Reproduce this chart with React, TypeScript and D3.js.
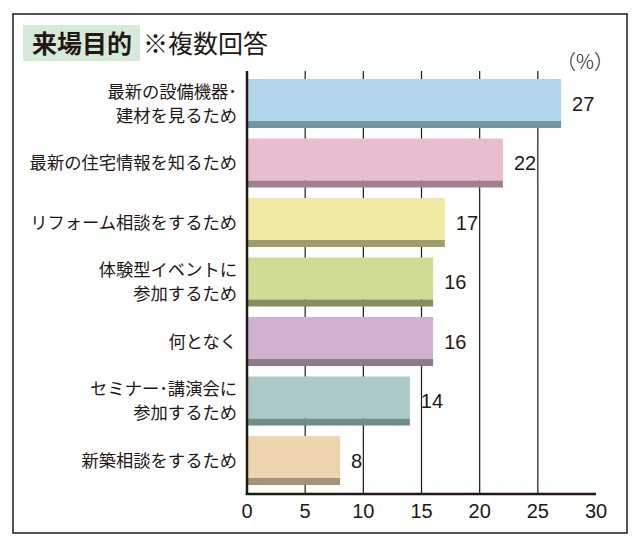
import * as d3 from 'd3';
import * as React from 'react';

const categories = [
  '最新の設備機器･\n建材を見るため',
  '最新の住宅情報を知るため',
  'リフォーム相談をするため',
  '体験型イベントに\n参加するため',
  '何となく',
  'セミナー･講演会に\n参加するため',
  '新築相談をするため',
];
const values = [27, 22, 17, 16, 16, 14, 8];
const lightColors = ['#b1d5ea', '#e8bdd0', '#f0e9a4', '#d0da92', '#cfb2cf', '#a9c8c6', '#eed5b0'];
const darkColors = ['#7592a0', '#a08090', '#a09c6c', '#858e5e', '#8c7a8c', '#6f8e8a', '#a39277'];
const ticks = [0, 5, 10, 15, 20, 25, 30];

const W = 640;
const H = 547;
const ink = '#231815';
const jp = '"Noto Sans CJK JP", "Noto Sans", sans-serif';
const num = '"Liberation Sans", Arial, sans-serif';

export default function App() {
  const x = d3.scaleLinear().domain([0, 30]).range([247, 596]);
  const y = d3
    .scaleBand<string>()
    .domain(categories)
    .range([73.76, 490.26])
    .paddingInner(0.176)
    .paddingOuter(0.088);
  const bw = y.bandwidth();
  const shadow = 7;

  return (
    <svg width={W} height={H} style={{ position: 'fixed', left: 0, top: 0, background: '#fff' }}>
      <rect x={13} y={14} width={614} height={519} fill="#fff" stroke={ink} strokeWidth={1.5} />

      {/* title */}
      <rect x={23} y={25} width={117} height={36} fill="#d5ead8" />
      <text x={32} y={53} fontFamily={jp} fontSize={25} fontWeight={700} fill={ink}>来場目的</text>
      <text x={143} y={53} fontFamily={jp} fontSize={25} fill={ink}>※複数回答</text>
      <text x={585} y={69} textAnchor="middle" fontFamily={jp} fontSize={20} fontWeight={300} fill={ink}>（%）</text>

      {/* grid */}
      {ticks.slice(1, -1).map((t) => (
        <line key={t} x1={x(t)} x2={x(t)} y1={71} y2={494} stroke={ink} strokeWidth={1.2} />
      ))}

      {/* bars */}
      {categories.map((c, i) => {
        const top = y(c)!;
        const w = x(values[i]) - x(0);
        const lines = c.split('\n');
        const mid = top + bw / 2;
        return (
          <g key={c}>
            <rect x={x(0)} y={top} width={w} height={bw - shadow} fill={lightColors[i]} />
            <rect x={x(0)} y={top + bw - shadow} width={w} height={shadow} fill={darkColors[i]} />
            <text
              x={x(values[i]) + 11}
              y={mid}
              dy="0.36em"
              fontFamily={num}
              fontSize={20}
              fill={ink}
            >
              {values[i]}
            </text>
            {lines.map((l, k) => (
              <text
                key={k}
                x={237}
                y={mid + (k - (lines.length - 1) / 2) * 24}
                dy="0.36em"
                textAnchor="end"
                fontFamily={jp}
                fontSize={17.3}
                fill={ink}
              >
                {l}
              </text>
            ))}
          </g>
        );
      })}

      {/* axes */}
      <line x1={x(0)} x2={x(0)} y1={71} y2={495} stroke={ink} strokeWidth={2.5} />
      <line x1={x(0) - 1.25} x2={x(30)} y1={494} y2={494} stroke={ink} strokeWidth={2.5} />
      {ticks.map((t) => (
        <text key={t} x={x(t)} y={518} textAnchor="middle" fontFamily={num} fontSize={20} fill={ink}>
          {t}
        </text>
      ))}
    </svg>
  );
}
